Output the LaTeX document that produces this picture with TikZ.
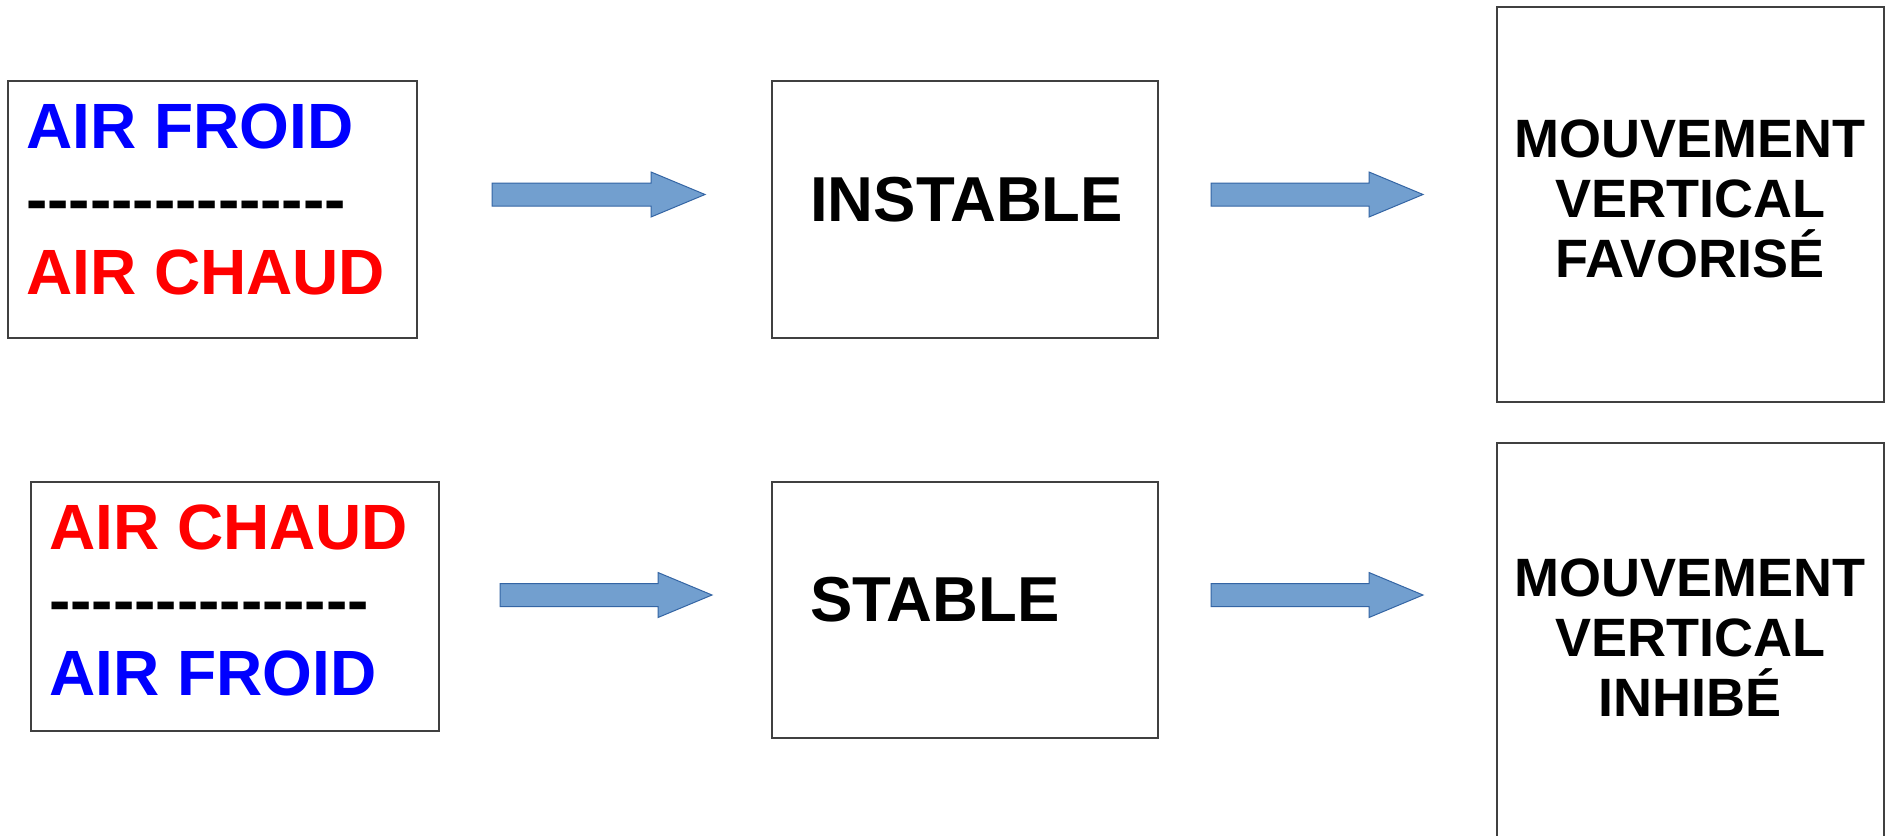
\documentclass[tikz,border=0pt]{standalone}
\usepackage{fontspec}
\setmainfont{Liberation Sans}[Ligatures=TeXOff]
\usetikzlibrary{calc}
\definecolor{arrfill}{HTML}{729FCF}
\definecolor{arrline}{HTML}{3465A4}
\definecolor{coldblue}{HTML}{0000FF}
\definecolor{warmred}{HTML}{FF0000}
\tikzset{
  box/.style={draw=black!75, line width=1.3pt, inner sep=0pt, rectangle},
  txt/.style={inner sep=0pt, text=black},
  big/.style={font=\fontsize{64}{73}\selectfont\bfseries},
  mid/.style={font=\fontsize{63.5}{73}\selectfont\bfseries},
  small/.style={font=\fontsize{54}{60}\selectfont\bfseries},
  blockarr/.style={fill=arrfill, draw=arrline, line width=1pt, line join=miter}
}
\newcommand\blockarrow[2]{%
  \path[blockarr] ($(#1)+(0,-11.5)$) -- ($(#2)+(-54,-11.5)$) -- ($(#2)+(-54,-22.5)$)
    -- (#2) -- ($(#2)+(-54,22.5)$) -- ($(#2)+(-54,11.5)$) -- ($(#1)+(0,11.5)$) -- cycle;}
\begin{document}
\begin{tikzpicture}[x=1pt,y=-1pt]
\useasboundingbox (0,0) rectangle (1892,835);
\clip (0,0) rectangle (1892,835);
\fill[white] (0,0) rectangle (1892,835);
% boxes
\node[box, minimum width=409pt, minimum height=257pt] (b1) at (212.5,209.5) {};
\node[box, minimum width=386pt, minimum height=257pt] (b2) at (965,209.5) {};
\node[box, minimum width=387pt, minimum height=395pt] (b3) at (1690.5,204.5) {};
\node[box, minimum width=408pt, minimum height=249pt] (b4) at (235,606.5) {};
\node[box, minimum width=386pt, minimum height=256pt] (b5) at (965,610) {};
\node[box, minimum width=387pt, minimum height=407pt] (b6) at (1690.5,646.5) {};
% texts
\node[txt, big, anchor=north west, align=left] (t1) at (26,103.5)
  {\textcolor{coldblue}{AIR FROID}\\---------------\\\textcolor{warmred}{AIR CHAUD}};
\node[txt, big, anchor=north west, align=left] (t4) at (49,504.5)
  {\textcolor{warmred}{AIR CHAUD}\\---------------\\\textcolor{coldblue}{AIR FROID}};
\node[txt, mid, anchor=north west] (t2) at (810,177) {INSTABLE};
\node[txt, mid, anchor=north west] (t5) at (810,577) {STABLE};
\node[txt, small, anchor=north, align=center] (t3) at (1690,120) {MOUVEMENT\\VERTICAL\\FAVORISÉ};
\node[txt, small, anchor=north, align=center] (t6) at (1690,559) {MOUVEMENT\\VERTICAL\\INHIBÉ};
% arrows
\coordinate (a1s) at (492,194.5);  \coordinate (a1e) at (705,194.5);
\coordinate (a2s) at (1211,194.5); \coordinate (a2e) at (1423,194.5);
\coordinate (a3s) at (500,595);    \coordinate (a3e) at (712,595);
\coordinate (a4s) at (1211,595);   \coordinate (a4e) at (1423,595);
\blockarrow{a1s}{a1e}
\blockarrow{a2s}{a2e}
\blockarrow{a3s}{a3e}
\blockarrow{a4s}{a4e}
\end{tikzpicture}
\end{document}
